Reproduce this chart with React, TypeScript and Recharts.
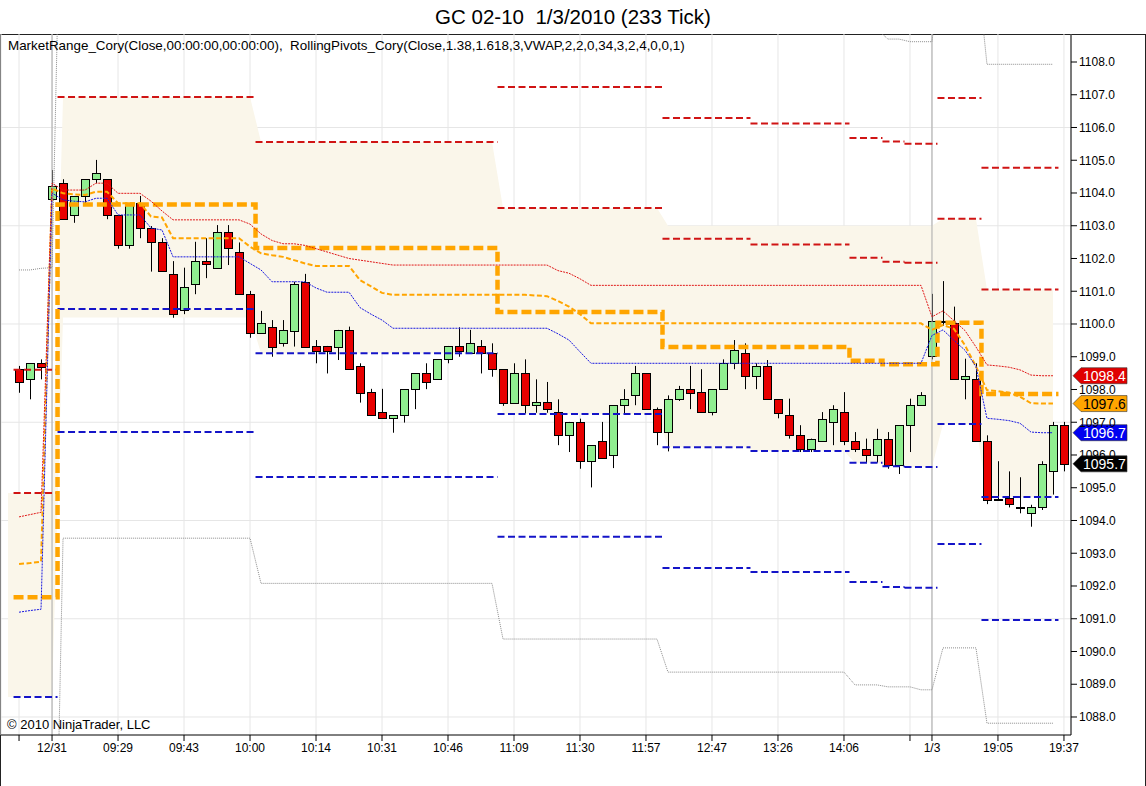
import React from "react";
import {
  ComposedChart, Bar, Line, Area, XAxis, YAxis, CartesianGrid,
  ReferenceLine, ReferenceDot,
} from "recharts";

const FONT = "Arial, 'Liberation Sans', sans-serif";
const BEIGE = "#FAF6EA";
const RED = "#D01414";
const BLUE = "#1414C8";
const ORANGE = "#FFA500";

// visible window: bar index on x, price on y
const X_MIN = -1.64;
const X_MAX = 95.64;
const Y_MIN = 1087.45;
const Y_MAX = 1108.855;

// 233-tick candles, one per bar index 0..95
const OPEN = [
  1098.62, 1098.31, 1098.80, 1103.81, 1104.30, 1103.32, 1103.91, 1104.42, 1104.42, 1103.32,
  1102.40, 1103.69, 1102.92, 1102.49, 1101.52, 1100.42, 1101.21, 1101.92, 1101.70, 1102.80,
  1102.21, 1100.91, 1099.72, 1099.90, 1099.41, 1099.80, 1101.29, 1099.33, 1099.33, 1099.31,
  1099.82, 1098.72, 1097.92, 1097.30, 1097.12, 1097.21, 1098.01, 1098.49, 1098.31, 1098.92,
  1099.33, 1099.12, 1099.33, 1099.10, 1098.62, 1097.60, 1098.49, 1097.52, 1097.62, 1097.31,
  1096.60, 1097.01, 1095.81, 1096.42, 1096.01, 1097.52, 1097.82, 1098.49, 1097.40, 1096.70,
  1097.70, 1098.01, 1097.92, 1097.31, 1098.01, 1098.80, 1099.10, 1098.41, 1098.72, 1097.70,
  1097.21, 1096.60, 1096.19, 1096.42, 1097.01, 1097.31, 1096.42, 1096.19, 1096.01, 1096.50,
  1095.70, 1096.91, 1097.52, 1099.02, 1100.05, 1100.02, 1098.31, 1098.31, 1096.42, 1094.63,
  1094.69, 1094.40, 1094.22, 1094.40, 1095.50, 1096.91,
];
const HIGH = [
  1098.72, 1098.80, 1098.92, 1104.70, 1104.42, 1103.91, 1104.42, 1105.01, 1104.42, 1103.32,
  1103.69, 1103.91, 1102.99, 1102.62, 1101.92, 1101.72, 1102.51, 1102.62, 1103.02, 1103.02,
  1102.49, 1101.01, 1100.40, 1100.12, 1100.12, 1101.29, 1101.53, 1099.51, 1099.33, 1099.82,
  1099.92, 1098.80, 1098.02, 1098.02, 1097.22, 1098.01, 1098.49, 1098.80, 1098.92, 1099.33,
  1099.90, 1099.82, 1099.51, 1099.41, 1098.62, 1098.80, 1098.92, 1098.31, 1098.23, 1097.70,
  1097.01, 1097.11, 1096.30, 1097.01, 1097.52, 1098.01, 1098.72, 1098.49, 1097.45, 1097.82,
  1098.11, 1098.72, 1098.62, 1098.01, 1098.92, 1099.51, 1099.41, 1098.80, 1098.90, 1097.70,
  1097.72, 1096.91, 1096.50, 1097.31, 1097.52, 1097.92, 1096.70, 1096.50, 1096.80, 1096.70,
  1096.91, 1097.72, 1097.92, 1100.92, 1101.31, 1100.53, 1098.94, 1098.80, 1096.60, 1095.81,
  1095.50, 1095.32, 1094.48, 1095.81, 1097.01, 1097.01,
];
const LOW = [
  1097.90, 1097.70, 1098.31, 1103.80, 1103.20, 1103.09, 1103.69, 1104.30, 1103.20, 1102.30,
  1102.30, 1102.62, 1101.60, 1101.61, 1100.19, 1100.30, 1100.91, 1101.40, 1101.70, 1101.80,
  1100.91, 1099.58, 1099.72, 1099.00, 1099.31, 1099.31, 1099.31, 1098.80, 1098.49, 1098.90,
  1098.62, 1097.60, 1097.21, 1097.12, 1096.68, 1096.99, 1097.40, 1098.01, 1098.31, 1098.80,
  1099.00, 1099.12, 1098.49, 1098.39, 1097.50, 1097.60, 1097.27, 1097.29, 1097.29, 1096.30,
  1096.09, 1095.58, 1095.01, 1095.91, 1095.60, 1097.27, 1097.52, 1097.40, 1096.30, 1096.11,
  1097.65, 1097.40, 1097.31, 1097.21, 1098.01, 1098.62, 1098.01, 1098.01, 1097.70, 1097.12,
  1096.50, 1096.09, 1096.09, 1096.42, 1096.30, 1096.30, 1096.09, 1095.77, 1095.77, 1095.58,
  1095.42, 1096.09, 1097.52, 1098.92, 1099.95, 1098.31, 1097.70, 1096.42, 1094.50, 1094.63,
  1094.40, 1094.22, 1093.81, 1094.32, 1094.79, 1095.50,
];
const CLOSE = [
  1098.22, 1098.80, 1098.70, 1104.21, 1103.20, 1103.91, 1104.42, 1104.60, 1103.32, 1102.40,
  1103.69, 1102.92, 1102.49, 1101.61, 1100.30, 1101.13, 1101.92, 1101.82, 1102.80, 1102.31,
  1100.91, 1099.72, 1100.02, 1099.31, 1099.82, 1101.22, 1099.31, 1099.18, 1099.18, 1099.82,
  1098.62, 1097.90, 1097.21, 1097.12, 1097.22, 1098.01, 1098.49, 1098.23, 1098.92, 1099.33,
  1099.18, 1099.41, 1099.12, 1098.62, 1097.60, 1098.49, 1097.52, 1097.62, 1097.40, 1096.60,
  1097.01, 1095.81, 1096.30, 1095.91, 1097.52, 1097.70, 1098.49, 1097.40, 1096.70, 1097.70,
  1098.01, 1097.90, 1097.31, 1098.01, 1098.80, 1099.21, 1098.41, 1098.72, 1097.70, 1097.29,
  1096.60, 1096.19, 1096.50, 1097.11, 1097.40, 1096.42, 1096.19, 1096.01, 1096.50, 1095.70,
  1096.91, 1097.52, 1097.82, 1100.10, 1100.10, 1098.31, 1098.41, 1096.42, 1094.63, 1094.67,
  1094.50, 1094.40, 1094.40, 1095.73, 1096.91, 1095.73,
];

// VWAP bands (thin red / medium orange / thin blue), bars 0..94
const UPPER = [
  1094.11, 1094.18, 1094.25, 1104.30, 1104.09, 1104.09, 1104.09, 1104.30, 1104.30, 1103.99,
  1103.99, 1103.99, 1103.75, 1103.45, 1103.18, 1103.18, 1103.18, 1103.18, 1103.18, 1103.18,
  1103.18, 1103.05, 1102.75, 1102.55, 1102.45, 1102.45, 1102.40, 1102.30, 1102.20, 1102.10,
  1102.00, 1101.95, 1101.90, 1101.85, 1101.80, 1101.80, 1101.80, 1101.80, 1101.80, 1101.80,
  1101.80, 1101.80, 1101.80, 1101.80, 1101.80, 1101.80, 1101.80, 1101.80, 1101.80, 1101.63,
  1101.55, 1101.38, 1101.18, 1101.18, 1101.18, 1101.18, 1101.18, 1101.18, 1101.18, 1101.18,
  1101.18, 1101.18, 1101.18, 1101.18, 1101.18, 1101.18, 1101.18, 1101.18, 1101.18, 1101.18,
  1101.18, 1101.18, 1101.18, 1101.18, 1101.18, 1101.18, 1101.18, 1101.18, 1101.18, 1101.18,
  1101.18, 1101.18, 1101.18, 1100.22, 1100.40, 1100.10, 1099.80, 1099.30, 1098.75, 1098.72,
  1098.68, 1098.60, 1098.44, 1098.42, 1098.42,
];
const MID = [
  1092.67, 1092.70, 1092.74, 1104.14, 1103.99, 1103.96, 1103.94, 1104.04, 1104.04, 1103.69,
  1103.69, 1103.69, 1103.28, 1103.25, 1102.62, 1102.62, 1102.62, 1102.62, 1102.62, 1102.62,
  1102.62, 1102.36, 1102.16, 1102.10, 1102.05, 1101.95, 1101.85, 1101.77, 1101.77, 1101.77,
  1101.77, 1101.34, 1101.15, 1100.95, 1100.89, 1100.89, 1100.89, 1100.89, 1100.89, 1100.89,
  1100.89, 1100.89, 1100.89, 1100.89, 1100.89, 1100.89, 1100.89, 1100.87, 1100.85, 1100.70,
  1100.53, 1100.30, 1100.02, 1100.02, 1100.02, 1100.02, 1100.02, 1100.02, 1100.02, 1100.02,
  1100.02, 1100.02, 1100.02, 1100.02, 1100.02, 1100.02, 1100.02, 1100.02, 1100.02, 1100.02,
  1100.02, 1100.02, 1100.02, 1100.02, 1100.02, 1100.02, 1100.02, 1100.02, 1100.02, 1100.02,
  1100.02, 1100.02, 1100.02, 1099.82, 1099.97, 1099.85, 1099.35, 1098.70, 1097.98, 1097.95,
  1097.90, 1097.78, 1097.58, 1097.57, 1097.57,
];
const LOWER = [
  1091.20, 1091.25, 1091.29, 1104.00, 1103.79, 1103.75, 1103.73, 1103.84, 1103.84, 1103.33,
  1103.33, 1103.33, 1102.93, 1102.87, 1102.05, 1102.05, 1102.05, 1102.05, 1102.05, 1102.05,
  1102.05, 1101.85, 1101.65, 1101.29, 1101.29, 1101.29, 1101.29, 1101.10, 1100.97, 1100.97,
  1100.97, 1100.50, 1100.30, 1100.12, 1099.87, 1099.87, 1099.87, 1099.87, 1099.87, 1099.87,
  1099.87, 1099.87, 1099.87, 1099.87, 1099.87, 1099.87, 1099.87, 1099.87, 1099.87, 1099.70,
  1099.51, 1099.15, 1098.80, 1098.80, 1098.80, 1098.80, 1098.80, 1098.80, 1098.80, 1098.80,
  1098.80, 1098.80, 1098.80, 1098.80, 1098.80, 1098.80, 1098.80, 1098.80, 1098.80, 1098.80,
  1098.80, 1098.80, 1098.80, 1098.80, 1098.80, 1098.80, 1098.80, 1098.80, 1098.80, 1098.80,
  1098.80, 1098.80, 1098.80, 1099.65, 1099.82, 1099.50, 1099.20, 1098.70, 1097.12, 1097.09,
  1097.05, 1096.97, 1096.70, 1096.68, 1096.68,
];

// MarketRange high / low (grey dotted); values past the frame are estimates
const RANGE_HIGH = [
  1101.65, 1101.65, 1101.70, 1101.72, 1117, 1117, 1117, 1117, 1117, 1117,
  1117, 1117, 1117, 1117, 1117, 1117, 1117, 1117, 1117, 1117,
  1117, 1117, 1117, 1117, 1117, 1117, 1117, 1117, 1117, 1117,
  1117, 1117, 1117, 1117, 1117, 1117, 1117, 1117, 1117, 1117,
  1117, 1117, 1117, 1117, 1117, 1117, 1117, 1117, 1117, 1117,
  1117, 1117, 1117, 1117, 1117, 1117, 1117, 1117, 1117, 1117,
  1117, 1117, 1117, 1117, 1117, 1117, 1117, 1117, 1117, 1117,
  1117, 1117, 1117, 1117, 1117, 1117, 1109.0, 1109.0, 1109.0, 1108.70,
  1108.70, 1108.62, 1108.62, 1108.62, 1111.2, 1111.2, 1111.2, 1111.2, 1107.93, 1107.93,
  1107.93, 1107.93, 1107.93, 1107.93, 1107.93,
];
const RANGE_LOW = [
  1077, 1077, 1077, 1077, 1093.46, 1093.46, 1093.46, 1093.46, 1093.46, 1093.46,
  1093.46, 1093.46, 1093.46, 1093.46, 1093.46, 1093.46, 1093.46, 1093.46, 1093.46, 1093.46,
  1093.46, 1093.46, 1092.08, 1092.08, 1092.08, 1092.08, 1092.08, 1092.08, 1092.08, 1092.08,
  1092.08, 1092.08, 1092.08, 1092.08, 1092.08, 1092.08, 1092.08, 1092.08, 1092.08, 1092.08,
  1092.08, 1092.08, 1092.08, 1092.08, 1090.38, 1090.38, 1090.38, 1090.38, 1090.38, 1090.38,
  1090.38, 1090.38, 1090.38, 1090.38, 1090.38, 1090.38, 1090.38, 1090.38, 1090.38, 1089.37,
  1089.37, 1089.37, 1089.37, 1089.37, 1089.37, 1089.37, 1089.37, 1089.37, 1089.37, 1089.37,
  1089.37, 1089.37, 1089.37, 1089.37, 1089.37, 1089.37, 1088.98, 1088.98, 1088.98, 1088.92,
  1088.92, 1088.92, 1088.83, 1088.83, 1090.11, 1090.11, 1090.11, 1090.11, 1087.81, 1087.81,
  1087.81, 1087.81, 1087.81, 1087.81, 1087.81,
];

// rolling pivot levels, one value per segment (first bar of each segment)
const SEG_START = [0, 4, 22, 44, 59, 67, 76, 79, 81, 84, 88];
const LAST_INDICATOR_BAR = 94;
const R2 = [1098.60, null, null, 1107.24, 1106.29, 1106.12, 1105.68, 1105.57, 1105.50, 1106.90, 1104.77];
const R1 = [1094.84, 1106.93, 1105.56, 1103.54, 1102.60, 1102.43, 1102.02, 1101.90, 1101.87, 1103.21, 1101.05];
const S1 = [1088.61, 1100.46, 1099.11, 1097.25, 1096.24, 1096.12, 1095.76, 1095.66, 1095.63, 1096.95, 1094.72];
const S2 = [null, 1096.70, 1095.33, 1093.50, 1092.55, 1092.43, 1092.12, 1091.97, 1091.95, 1093.28, 1090.96];
const PIVOT = [1091.66, 1103.65, 1102.32, 1100.37, 1099.30, 1099.30, 1098.88, 1098.77, 1098.77, 1100.04, 1097.86];
const BAND_TOP = [1094.84, 1106.93, 1105.56, 1103.54, 1103.0, 1103.0, 1103.0, 1103.0, 1103.0, 1103.21, 1101.05];
const BAND_BOTTOM = [1088.61, 1100.2, 1099.11, 1097.25, 1096.24, 1096.12, 1095.76, 1095.66, 1095.63, 1096.95, 1094.72];

const SESSION_BARS = [3, 83];
const TICK_BARS = [0, 3, 9, 15, 21, 27, 33, 39, 45, 51, 57, 63, 69, 75, 81, 83, 89, 95];
const TICK_LABELS = ["", "12/31", "09:29", "09:43", "10:00", "10:14", "10:31", "10:46", "11:09",
  "11:30", "11:57", "12:47", "13:26", "14:06", "", "1/3", "19:05", "19:37"];
const PRICE_TICKS = [1088, 1089, 1090, 1091, 1092, 1093, 1094, 1095, 1096, 1097, 1098,
  1099, 1100, 1101, 1102, 1103, 1104, 1105, 1106, 1107, 1108];
const GRID_PRICES = [1088, 1091, 1094, 1097, 1100, 1103, 1106];

const segEnd = (k: number) => (k < SEG_START.length - 1 ? SEG_START[k + 1] - 1 : LAST_INDICATOR_BAR);
const segOf = (i: number) => {
  let k = 0;
  SEG_START.forEach((s, j) => { if (s <= i) k = j; });
  return k;
};

const rows: any[] = [];
for (let i = -1; i < OPEN.length; i++) {
  const has = i >= 0;
  const ind = has && i <= LAST_INDICATOR_BAR;
  const k = segOf(Math.max(i, 0));
  rows.push({
    x: i,
    range: has ? [LOW[i], HIGH[i]] : null,
    open: has ? OPEN[i] : null,
    high: has ? HIGH[i] : null,
    low: has ? LOW[i] : null,
    close: has ? CLOSE[i] : null,
    upper: ind ? UPPER[i] : null,
    mid: ind ? MID[i] : null,
    lower: ind ? LOWER[i] : null,
    rangeHigh: ind ? RANGE_HIGH[i] : null,
    rangeLow: ind ? RANGE_LOW[i] : null,
    band: i <= LAST_INDICATOR_BAR ? [BAND_BOTTOM[k], BAND_TOP[k]] : null,
  });
}

// flat level per segment, spanning half a bar either side
function levelPoints(values: (number | null)[], joined: boolean) {
  const pts: { x: number; v: number | null }[] = [];
  values.forEach((v, k) => {
    const a = SEG_START[k] - 0.5;
    const b = segEnd(k) + 0.5;
    if (v == null) { pts.push({ x: a, v: null }); return; }
    pts.push({ x: a, v }, { x: b, v });
    if (!joined) pts.push({ x: b, v: null });
  });
  return pts;
}

const Candle = (props: any) => {
  const { x, y, width, height, payload } = props;
  if (!payload || payload.open == null) return null;
  const { open, close, high, low } = payload;
  const top = Math.min(y, y + height);
  const h = Math.abs(height);
  const span = high - low || 1;
  const py = (v: number) => top + ((high - v) / span) * h;
  const cx = Math.round(x + width / 2) + 0.5;
  const bTop = Math.round(py(Math.max(open, close))) + 0.5;
  const bBot = Math.round(py(Math.min(open, close))) + 0.5;
  const up = close >= open;
  return (
    <g>
      <line x1={cx} x2={cx} y1={top} y2={top + h} stroke="#000" strokeWidth={1} />
      <rect x={cx - 4} y={bTop} width={8} height={Math.max(bBot - bTop, 1)}
        fill={up ? "#90EE90" : "#E80000"} stroke="#000" strokeWidth={1} />
    </g>
  );
};

const tagShape = (fill: string, color: string, value: number) => (p: any) => {
  const { cx, cy } = p;
  const pts = `${cx + 2},${cy} ${cx + 10},${cy - 8} ${cx + 56},${cy - 8} ${cx + 56},${cy + 8} ${cx + 10},${cy + 8}`;
  return (
    <g>
      <polygon points={pts} fill={fill} stroke="#333" strokeWidth={0.6} />
      <text x={cx + 12} y={cy + 5} fill={color} fontSize={14} fontFamily={FONT}>{value.toFixed(1)}</text>
    </g>
  );
};

const lineBase = { dot: false, activeDot: false, isAnimationActive: false, connectNulls: false, type: "linear" as const };

export default function App() {
  const axisTick = { fontSize: 12, fill: "#000", fontFamily: FONT };
  return (
    <div style={{ position: "fixed", left: 0, top: 0, width: 1146, height: 786, background: "#fff", fontFamily: FONT }}>
      <div style={{ position: "absolute", left: 0, right: 0, top: 5, textAlign: "center", fontSize: 20.5, whiteSpace: "pre", color: "#000" }}>
        {"GC 02-10  1/3/2010 (233 Tick)"}
      </div>
      <div style={{ position: "absolute", left: 0, top: 34, width: 1144, height: 751, border: "1px solid #222" }} />
      <ComposedChart width={1146} height={786} data={rows} margin={{ top: 34, right: 0, bottom: 21, left: 1 }}
        style={{ position: "absolute", left: 0, top: 0 }}>
        <CartesianGrid stroke="#E6E6E6" horizontalValues={GRID_PRICES} />
        <XAxis type="number" dataKey="x" domain={[X_MIN, X_MAX]} allowDataOverflow ticks={TICK_BARS} interval={0}
          tickFormatter={(v: number) => TICK_LABELS[TICK_BARS.indexOf(v)] ?? ""}
          tick={axisTick} tickLine={{ stroke: "#000" }} axisLine={{ stroke: "#000" }} tickSize={6} height={30} />
        <YAxis yAxisId={0} orientation="right" type="number" domain={[Y_MIN, Y_MAX]} allowDataOverflow ticks={PRICE_TICKS}
          interval={0} tickFormatter={(v: number) => v.toFixed(1)} tick={axisTick}
          tickLine={{ stroke: "#000" }} axisLine={{ stroke: "#000" }} tickSize={6} width={75} />
        <Area dataKey="band" type="linear" stroke="none" fill={BEIGE} fillOpacity={1} isAnimationActive={false} connectNulls={false} />
        {SESSION_BARS.map((b) => <ReferenceLine key={b} x={b} stroke="#A8A8A8" />)}
        <Bar dataKey="range" barSize={9} shape={<Candle />} isAnimationActive={false} />
        <Line {...lineBase} dataKey="rangeHigh" stroke="#8C8C8C" strokeWidth={1} strokeDasharray="1 1" />
        <Line {...lineBase} dataKey="rangeLow" stroke="#8C8C8C" strokeWidth={1} strokeDasharray="1 1" />
        <Line {...lineBase} data={levelPoints(R2, false)} dataKey="v" stroke={RED} strokeWidth={2} strokeDasharray="7 3.5" />
        <Line {...lineBase} data={levelPoints(R1, false)} dataKey="v" stroke={RED} strokeWidth={2} strokeDasharray="7 3.5" />
        <Line {...lineBase} data={levelPoints(S1, false)} dataKey="v" stroke={BLUE} strokeWidth={2} strokeDasharray="7 3.5" />
        <Line {...lineBase} data={levelPoints(S2, false)} dataKey="v" stroke={BLUE} strokeWidth={2} strokeDasharray="7 3.5" />
        <Line {...lineBase} data={levelPoints(PIVOT, true)} dataKey="v" stroke={ORANGE} strokeWidth={4.5} strokeDasharray="10 4" />
        <Line {...lineBase} dataKey="mid" stroke={ORANGE} strokeWidth={2} strokeDasharray="5 2.5" />
        <Line {...lineBase} dataKey="upper" stroke="#E01818" strokeWidth={1} strokeDasharray="2 1" />
        <Line {...lineBase} dataKey="lower" stroke="#1818E0" strokeWidth={1} strokeDasharray="2 1" />
        <ReferenceDot x={X_MAX} y={UPPER[LAST_INDICATOR_BAR]} r={0} ifOverflow="visible"
          shape={tagShape("#E00000", "#fff", UPPER[LAST_INDICATOR_BAR])} />
        <ReferenceDot x={X_MAX} y={MID[LAST_INDICATOR_BAR]} r={0} ifOverflow="visible"
          shape={tagShape(ORANGE, "#000", MID[LAST_INDICATOR_BAR])} />
        <ReferenceDot x={X_MAX} y={LOWER[LAST_INDICATOR_BAR]} r={0} ifOverflow="visible"
          shape={tagShape("#0000F0", "#fff", LOWER[LAST_INDICATOR_BAR])} />
        <ReferenceDot x={X_MAX} y={CLOSE[CLOSE.length - 1]} r={0} ifOverflow="visible"
          shape={tagShape("#000", "#fff", CLOSE[CLOSE.length - 1])} />
      </ComposedChart>
      <div style={{ position: "absolute", left: 8, top: 38, fontSize: 13.4, color: "#000", whiteSpace: "pre" }}>
        {"MarketRange_Cory(Close,00:00:00,00:00:00),  RollingPivots_Cory(Close,1.38,1.618,3,VWAP,2,2,0,34,3,2,4,0,0,1)"}
      </div>
      <div style={{ position: "absolute", left: 7, top: 717, fontSize: 13, color: "#000" }}>
        {"© 2010 NinjaTrader, LLC"}
      </div>
    </div>
  );
}
